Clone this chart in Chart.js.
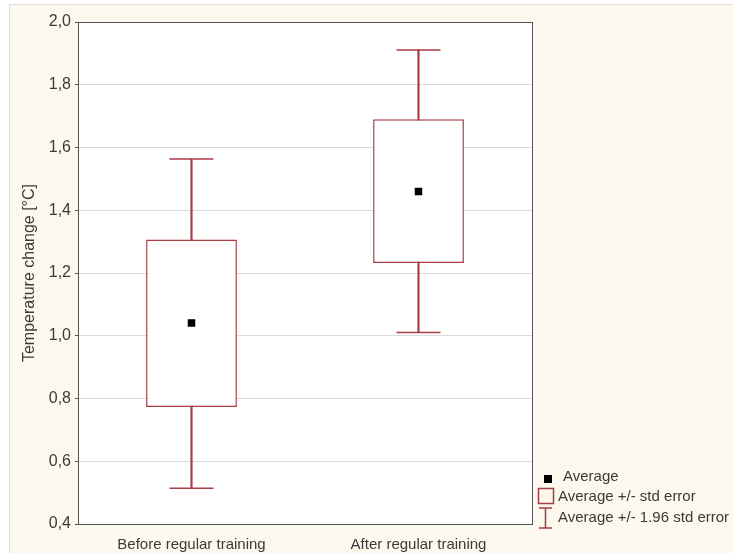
<!DOCTYPE html>
<html>
<head>
<meta charset="utf-8">
<script src="https://cdn.jsdelivr.net/npm/chart.js@4/dist/chart.umd.min.js"></script>
<style>
  body { margin: 0; background: #ffffff; }
  #panel {
    position: absolute; left: 9px; top: 4px;
    width: 723px; height: 548px;
    background: #fdf8ee;
    border-top: 1px solid #e2ddd2;
    border-left: 1px solid #e2ddd2;
  }
  canvas { display: block; }
</style>
</head>
<body>
<div id="panel"><canvas id="myChart" width="723" height="548"></canvas></div>
<script>
// values
const categories = ["Before regular training", "After regular training"];
const means = [1.041, 1.460];
const seLow = [0.773, 1.232];
const seHigh = [1.307, 1.690];
const ciLow = [0.514, 1.010];
const ciHigh = [1.563, 1.911];
const yTicks = [0.4, 0.6, 0.8, 1.0, 1.2, 1.4, 1.6, 1.8, 2.0];

const red = "#a83c44";
const textColor = "#3a3a3a";
const family = "Arial, 'Liberation Sans', sans-serif";

const plotBg = {
  id: "plotBg",
  beforeDraw(chart) {
    const { ctx, chartArea: a } = chart;
    ctx.save();
    ctx.fillStyle = "#ffffff";
    ctx.fillRect(a.left, a.top, a.right - a.left, a.bottom - a.top);
    ctx.restore();
  },
  afterDraw(chart) {
    const { ctx, chartArea: a } = chart;
    ctx.save();
    ctx.strokeStyle = "#555555";
    ctx.lineWidth = 1;
    ctx.strokeRect(Math.round(a.left) + 0.5, Math.round(a.top) + 0.5,
      Math.round(a.right - a.left), Math.round(a.bottom - a.top));

    // legend, to the right of the plot
    const x0 = a.right + 6;
    ctx.font = "15px " + family;
    ctx.textBaseline = "middle";
    ctx.fillStyle = textColor;
    ctx.fillText("Average", x0 + 25, a.bottom - 47);
    ctx.fillText("Average +/- std error", x0 + 20, a.bottom - 27);
    ctx.fillText("Average +/- 1.96 std error", x0 + 20, a.bottom - 6);

    ctx.fillStyle = "#000000";
    ctx.fillRect(x0 + 6, a.bottom - 49, 8, 8);

    ctx.strokeStyle = red;
    ctx.lineWidth = 1.5;
    ctx.strokeRect(x0 + 0.5, a.bottom - 35.5, 15, 15);

    ctx.beginPath();
    ctx.moveTo(x0 + 7.5, a.bottom - 16);
    ctx.lineTo(x0 + 7.5, a.bottom + 4);
    ctx.moveTo(x0 + 1, a.bottom - 16);
    ctx.lineTo(x0 + 14, a.bottom - 16);
    ctx.moveTo(x0 + 1, a.bottom + 4);
    ctx.lineTo(x0 + 14, a.bottom + 4);
    ctx.stroke();
    ctx.restore();
  }
};

const ctx = document.getElementById("myChart").getContext("2d");
new Chart(ctx, {
  type: "bar",
  data: {
    labels: categories,
    datasets: [
      {
        label: "whisker",
        data: categories.map((c, i) => [ciLow[i], ciHigh[i]]),
        backgroundColor: red,
        borderWidth: 0,
        barThickness: 1.5,
        grouped: false,
        order: 4
      },
      {
        label: "Average +/- std error",
        data: categories.map((c, i) => [seLow[i], seHigh[i]]),
        backgroundColor: "#ffffff",
        borderColor: red,
        borderWidth: 1.5,
        borderSkipped: false,
        barPercentage: 0.4,
        categoryPercentage: 1.0,
        grouped: false,
        order: 3
      },
      {
        type: "line",
        label: "cap high",
        data: ciHigh,
        showLine: false,
        pointStyle: "line",
        pointRadius: 22,
        pointHoverRadius: 22,
        borderColor: red,
        borderWidth: 1.5,
        order: 2
      },
      {
        type: "line",
        label: "cap low",
        data: ciLow,
        showLine: false,
        pointStyle: "line",
        pointRadius: 22,
        pointHoverRadius: 22,
        borderColor: red,
        borderWidth: 1.5,
        order: 2
      },
      {
        type: "line",
        label: "Average",
        data: means,
        showLine: false,
        pointStyle: "rect",
        pointRadius: 5.3,
        pointHoverRadius: 5.3,
        backgroundColor: "#000000",
        borderWidth: 0,
        order: 1
      }
    ]
  },
  options: {
    responsive: false,
    animation: false,
    events: [],
    layout: { autoPadding: false, padding: { top: 17, right: 201, left: 0, bottom: 0 } },
    plugins: {
      legend: { display: false },
      tooltip: { enabled: false }
    },
    scales: {
      x: {
        grid: { display: false, drawTicks: false },
        border: { display: false },
        ticks: { color: textColor, font: { family: family, size: 15 }, padding: 12 },
        afterFit(scale) { scale.height = 29; }
      },
      y: {
        min: 0.4,
        max: 2.0,
        afterBuildTicks(scale) { scale.ticks = yTicks.map(v => ({ value: v })); },
        grid: { color: "#dadada", tickColor: "#555555", tickLength: 3 },
        border: { display: false },
        ticks: {
          color: textColor,
          font: { family: family, size: 16 },
          padding: 4,
          callback: v => v.toFixed(1).replace(".", ",")
        },
        title: {
          display: true,
          text: "Temperature change [°C]",
          color: textColor,
          font: { family: family, size: 16 },
          padding: { top: 10, bottom: 0 }
        },
        afterFit(scale) { scale.width = 68; }
      }
    }
  },
  plugins: [plotBg]
});
</script>
</body>
</html>
